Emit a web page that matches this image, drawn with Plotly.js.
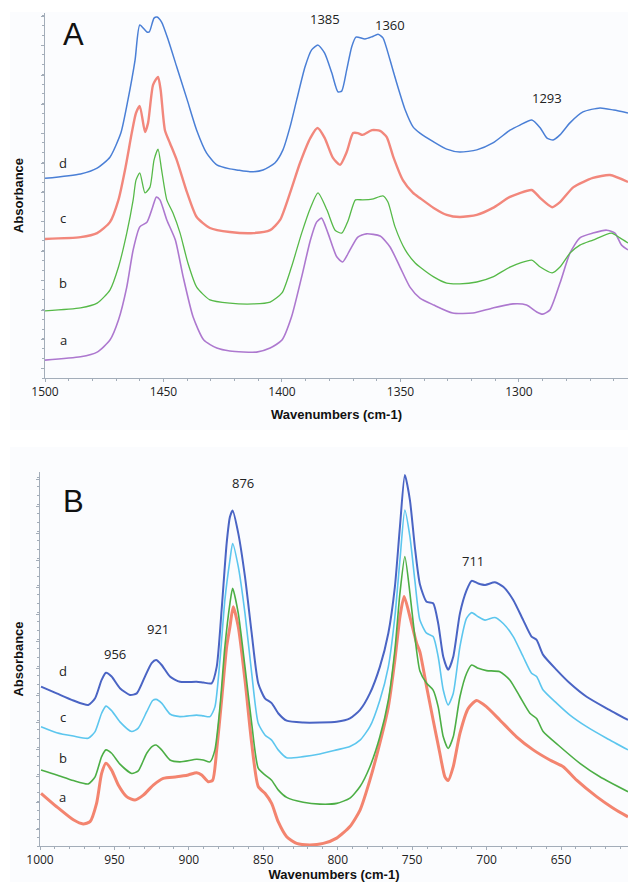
<!DOCTYPE html>
<html>
<head>
<meta charset="utf-8">
<script src="https://cdn.plot.ly/plotly-3.0.1.min.js"></script>
<style>html,body{margin:0;padding:0;background:#fff;}#chart{width:628px;height:882px;}</style>
</head>
<body>
<div id="chart"></div>
<script>
// ---------- Panel A (1500–1254 cm-1) ----------
const aD_x = [1500,1485,1478,1472.6,1468,1465,1462,1460,1457,1456,1454,1452.7,1450.8,1448,1444.4,1440,1436,1431.8,1427.5,1422,1419,1413.5,1408,1403,1399.6,1396.6,1393.8,1390.3,1387.5,1384.8,1382,1379,1376.4,1374.8,1372.7,1370.6,1368.8,1365,1362,1359.5,1357.4,1354.4,1351.6,1348,1344.7,1341.8,1336,1330.5,1325,1317.8,1311,1303.8,1299.6,1294.6,1291,1288.3,1285.6,1282.7,1278.5,1273,1265.8,1260,1254];
const aD_y = [0.547,0.559,0.575,0.605,0.671,0.762,0.871,0.967,0.948,0.948,0.986,0.989,0.975,0.926,0.852,0.762,0.679,0.616,0.584,0.573,0.570,0.565,0.570,0.589,0.625,0.688,0.762,0.852,0.899,0.912,0.890,0.836,0.784,0.786,0.844,0.907,0.934,0.929,0.935,0.942,0.932,0.871,0.808,0.734,0.688,0.671,0.647,0.627,0.619,0.625,0.644,0.679,0.693,0.707,0.685,0.658,0.652,0.666,0.699,0.729,0.740,0.734,0.726];

const aC_x = [1500,1485,1478,1472.6,1469,1466,1463.4,1461.6,1460,1457.8,1456.5,1454.4,1452.3,1451.2,1449.4,1447.3,1444.4,1440,1436,1430.4,1422,1412,1405,1400.8,1396.6,1392.4,1388,1385,1382,1378.5,1375.5,1372.7,1370,1368,1366,1362,1358.6,1355.8,1353,1349,1344.7,1341.8,1336,1330.5,1325,1317.8,1311,1303.8,1294.6,1291,1286,1282.7,1277,1268.8,1261.6,1254];
const aC_y = [0.381,0.386,0.397,0.427,0.488,0.578,0.671,0.726,0.745,0.674,0.699,0.803,0.825,0.789,0.679,0.644,0.597,0.507,0.441,0.411,0.400,0.397,0.405,0.433,0.507,0.589,0.658,0.685,0.658,0.603,0.584,0.619,0.671,0.671,0.666,0.679,0.677,0.660,0.605,0.542,0.507,0.493,0.466,0.447,0.441,0.447,0.466,0.496,0.515,0.493,0.468,0.482,0.523,0.548,0.556,0.537];

const aB_x = [1500,1485,1478,1472.6,1469,1465.5,1462.8,1461.6,1460,1457.8,1455.7,1454,1452.3,1450.8,1448.6,1446,1443,1439.7,1436,1430.4,1422,1412,1405,1400,1396,1391.7,1388,1384.8,1381,1377.6,1374.8,1372,1369,1366,1362,1357.4,1355.3,1352.3,1348,1343.8,1341.8,1336,1330.5,1325,1317.8,1311,1303.8,1294.6,1291,1286,1282.7,1278.5,1274.3,1268.8,1261,1257.4,1254];
const aB_y = [0.184,0.192,0.205,0.241,0.304,0.397,0.488,0.542,0.562,0.507,0.523,0.597,0.627,0.570,0.488,0.452,0.397,0.315,0.249,0.214,0.205,0.203,0.208,0.233,0.304,0.397,0.466,0.507,0.460,0.405,0.397,0.433,0.488,0.488,0.490,0.499,0.482,0.414,0.351,0.315,0.304,0.277,0.260,0.258,0.263,0.277,0.304,0.323,0.304,0.288,0.304,0.342,0.364,0.378,0.397,0.384,0.370];

const aA_x = [1500,1485,1478,1472.6,1469,1465.5,1462.8,1460,1457,1454.6,1453,1451.5,1448.6,1445,1441.7,1437.5,1433,1427.5,1422,1410.7,1405,1400,1396,1391.7,1388,1385.4,1383.3,1380.6,1376.9,1374.4,1371.3,1368,1364.4,1358.6,1354.4,1350.2,1346,1341.8,1336,1328,1319.4,1311,1302.5,1296.8,1292.5,1290,1287,1282.7,1278.5,1274.3,1268.8,1263,1259.5,1256.7,1254];
const aA_y = [0.049,0.058,0.071,0.104,0.159,0.249,0.351,0.414,0.427,0.468,0.496,0.488,0.433,0.378,0.277,0.167,0.104,0.082,0.074,0.071,0.082,0.104,0.167,0.277,0.378,0.427,0.438,0.397,0.332,0.318,0.351,0.386,0.395,0.389,0.359,0.304,0.249,0.219,0.200,0.178,0.178,0.192,0.203,0.200,0.181,0.175,0.186,0.260,0.342,0.384,0.397,0.405,0.397,0.364,0.351];

// ---------- Panel B (1000–605 cm-1) ----------
const bD_x = [999.3,988.8,977.6,967.6,963,958.6,955.7,951.9,946.3,939.6,935,929.5,925,922,918.3,912.7,906,894.8,890.3,884.7,881.3,878,874.6,872.4,870.6,866.8,862.3,857.8,853.4,848.9,844.4,840,834.3,823.2,812,800.7,791.8,785,778.4,771.7,766,761.6,758.2,754.9,751.5,748.2,744.8,740.3,735.9,732.5,729.1,725.8,722.4,717.9,713.4,710,705.6,701,694.4,688.8,682.1,675.4,669.8,666.4,662,653,644,632.8,619.4,605];
const bD_y = [0.426,0.408,0.389,0.377,0.395,0.444,0.463,0.453,0.422,0.404,0.408,0.453,0.489,0.497,0.484,0.453,0.439,0.439,0.437,0.435,0.479,0.631,0.810,0.880,0.897,0.836,0.720,0.569,0.435,0.395,0.382,0.355,0.335,0.330,0.330,0.332,0.341,0.364,0.408,0.479,0.569,0.693,0.854,0.992,0.925,0.800,0.700,0.653,0.649,0.595,0.506,0.471,0.506,0.622,0.684,0.709,0.702,0.698,0.705,0.693,0.658,0.604,0.560,0.551,0.511,0.471,0.435,0.399,0.368,0.337];

const bC_x = [999.3,988.8,977.6,967.6,963,958.6,955.7,951.9,946.3,938.4,934,928.3,924.3,922,918.3,912.7,906,894.8,890.3,885.8,882.5,879.1,875.8,872.4,870.6,866.8,862.3,857.8,853.4,848.9,844.4,840,834.3,823.2,812,800.7,791.8,785,778.4,771.7,766,761.6,758.2,754.9,751.5,748.2,744.8,740.3,735.9,732.5,729.1,725.8,722.4,717.9,713.4,710,705.6,701,694.4,688.8,682.1,675.4,669.8,666.4,662,653,644,632.8,619.4,605];
const bC_y = [0.319,0.303,0.294,0.288,0.306,0.355,0.374,0.362,0.332,0.306,0.315,0.359,0.389,0.392,0.382,0.353,0.346,0.350,0.348,0.346,0.372,0.497,0.658,0.765,0.809,0.747,0.622,0.462,0.328,0.297,0.283,0.257,0.236,0.239,0.246,0.257,0.266,0.283,0.319,0.390,0.479,0.613,0.765,0.898,0.827,0.711,0.604,0.569,0.560,0.506,0.417,0.377,0.408,0.533,0.609,0.624,0.613,0.604,0.611,0.595,0.560,0.506,0.462,0.453,0.417,0.382,0.350,0.319,0.288,0.257];

const bB_x = [999.3,988.8,977.6,967.6,963,958.6,955.7,951.9,946.3,938.4,934,928.3,924.3,922,918.3,912.7,906,894.8,890.3,885.8,882.5,879.1,875.8,872.4,870.6,866.8,862.3,857.8,853.4,848.9,844.4,840,834.3,823.2,812,800.7,791.8,785,778.4,771.7,766,761.6,758.2,754.9,751.5,748.2,744.8,740.3,735.9,732.5,729.1,725.8,722.4,717.9,713.4,710,705.6,700,691.1,684.4,677.6,670.9,666.4,662,650.8,637.3,623.9,605];
const bB_y = [0.203,0.190,0.175,0.166,0.185,0.239,0.257,0.248,0.219,0.194,0.201,0.248,0.267,0.270,0.257,0.230,0.225,0.232,0.230,0.225,0.257,0.372,0.533,0.649,0.689,0.622,0.479,0.328,0.208,0.190,0.176,0.150,0.130,0.117,0.112,0.114,0.128,0.159,0.212,0.292,0.390,0.524,0.676,0.774,0.676,0.560,0.468,0.435,0.417,0.372,0.292,0.261,0.292,0.399,0.462,0.484,0.475,0.469,0.466,0.444,0.399,0.355,0.341,0.306,0.266,0.221,0.185,0.145];

const bA_x = [999.3,988.8,977.6,971,966.4,962,958.6,955.7,951.9,947.4,941.8,936.2,930.6,923.9,917.2,908.2,900.4,894.8,891.4,887,884,881.3,878,874.6,872.4,870.2,866.8,862.3,857.8,853.4,848.9,844.4,840,834.3,827.6,818.7,809.7,800.7,791.8,785,778.4,771.7,766,761.6,758.2,755.4,751.5,747,744.8,740.3,735.9,731.4,728,725.8,722.4,717.9,712.3,706.7,700,691.1,679.9,668.7,657.5,648.5,639.5,626.1,614.9,605];
const bA_y = [0.141,0.105,0.070,0.059,0.065,0.114,0.194,0.221,0.203,0.163,0.132,0.123,0.136,0.163,0.181,0.185,0.190,0.196,0.190,0.172,0.176,0.257,0.390,0.533,0.586,0.640,0.586,0.444,0.275,0.159,0.141,0.114,0.065,0.025,0.007,0.003,0.007,0.021,0.052,0.096,0.176,0.275,0.372,0.497,0.613,0.667,0.613,0.542,0.519,0.426,0.337,0.248,0.185,0.175,0.212,0.301,0.368,0.389,0.372,0.337,0.292,0.257,0.230,0.212,0.176,0.132,0.101,0.078];

// labels
const seriesNames = ['a','b','c','d'];
const peaksA = [1385, 1360, 1293];
const peaksB = [956, 921, 876, 756, 711];

function tr(x, y, name, color, width, xa, ya) {
  return {x: x, y: y, name: name, type: 'scatter', mode: 'lines', xaxis: xa, yaxis: ya,
          line: {color: color, width: width, shape: 'spline', smoothing: 0.6}, hoverinfo: 'x+y+name'};
}

const data = [
  tr(aA_x, aA_y, 'a', '#ad78cf', 1.6, 'x', 'y'),
  tr(aB_x, aB_y, 'b', '#56b948', 1.3, 'x', 'y'),
  tr(aC_x, aC_y, 'c', '#f2877c', 2.4, 'x', 'y'),
  tr(aD_x, aD_y, 'd', '#4a7fd6', 1.5, 'x', 'y'),
  tr(bA_x, bA_y, 'a', '#f3846f', 3.0, 'x2', 'y2'),
  tr(bB_x, bB_y, 'b', '#4cae45', 1.6, 'x2', 'y2'),
  tr(bC_x, bC_y, 'c', '#5cc6ee', 1.6, 'x2', 'y2'),
  tr(bD_x, bD_y, 'd', '#4a64c4', 2.0, 'x2', 'y2')
];

const axCol = '#a3adb9';
const tickFont = {family: 'Open Sans, Liberation Sans, sans-serif', size: 12, color: '#222'};
const titleFont = {family: 'Liberation Sans, Arial, sans-serif', size: 13, color: '#111', weight: 'bold'};

function xax(domain, anchor, range, standoff) {
  return {domain: domain, anchor: anchor, range: range, autorange: false,
    showgrid: false, zeroline: false, showline: true, linecolor: axCol, linewidth: 1,
    ticks: 'outside', ticklen: 3, tickcolor: axCol, tick0: 0, dtick: 50,
    minor: {dtick: 10, ticks: 'outside', ticklen: 2, tickcolor: axCol, showgrid: false},
    tickfont: tickFont, automargin: false,
    title: {text: 'Wavenumbers (cm-1)', font: titleFont, standoff: standoff}};
}
function yax(domain, anchor, tick0, dtick, standoff) {
  return {domain: domain, anchor: anchor, range: [0, 1], autorange: false,
    showgrid: false, zeroline: false, showline: true, linecolor: axCol, linewidth: 1,
    ticks: 'outside', ticklen: 3, tickcolor: axCol, tick0: tick0, dtick: dtick,
    minor: {dtick: dtick / 3, ticks: 'outside', ticklen: 2, tickcolor: axCol, showgrid: false},
    showticklabels: false, automargin: false,
    title: {text: 'Absorbance', font: titleFont, standoff: standoff}};
}

const lblFont = {family: 'Open Sans, Liberation Sans, sans-serif', size: 13, color: '#222'};
function ann(text, x, y, xr, yr, font) {
  return {text: text, x: x, y: y, xref: xr, yref: yr, showarrow: false, font: font || lblFont};
}
const bigFont = {family: 'Liberation Sans, Arial, sans-serif', size: 31, color: '#111'};

const annotations = [
  ann('A', 1488, 0.94, 'x', 'y', bigFont),
  ann(String(peaksA[0]), 1382, 0.984, 'x', 'y'),
  ann(String(peaksA[1]), 1354.4, 0.967, 'x', 'y'),
  ann(String(peaksA[2]), 1288, 0.767, 'x', 'y'),
  ann(seriesNames[3], 1492.4, 0.589, 'x', 'y'),
  ann(seriesNames[2], 1492.4, 0.438, 'x', 'y'),
  ann(seriesNames[1], 1492.4, 0.260, 'x', 'y'),
  ann(seriesNames[0], 1492.4, 0.104, 'x', 'y'),
  ann('B', 977.8, 0.92, 'x2', 'y2', bigFont),
  ann(String(peaksB[0]), 949.6, 0.513, 'x2', 'y2'),
  ann(String(peaksB[1]), 920.8, 0.580, 'x2', 'y2'),
  ann(String(peaksB[2]), 863.7, 0.971, 'x2', 'y2'),
  ann(String(peaksB[3]), 750.8, 1.043, 'x2', 'y2'),
  ann(String(peaksB[4]), 709.2, 0.763, 'x2', 'y2'),
  ann(seriesNames[3], 984.6, 0.469, 'x2', 'y2'),
  ann(seriesNames[2], 984.6, 0.344, 'x2', 'y2'),
  ann(seriesNames[1], 984.6, 0.234, 'x2', 'y2'),
  ann(seriesNames[0], 984.6, 0.130, 'x2', 'y2')
];

const layout = {
  width: 628, height: 882,
  margin: {l: 0, r: 0, t: 0, b: 0, pad: 0},
  paper_bgcolor: '#ffffff', plot_bgcolor: '#fcfdfe',
  showlegend: false,
  xaxis: xax([45/628, 1], 'y', [1500, 1254], 10),
  yaxis: yax([1 - 378/882, 1 - 13/882], 'x', 0.025, 0.0805, 14),
  xaxis2: xax([40/628, 1], 'y2', [1000, 605], 4),
  yaxis2: yax([1 - 846/882, 1 - 472/882], 'x2', 0.043, 0.072, 9),
  annotations: annotations,
  shapes: [
    {type: 'rect', xref: 'paper', yref: 'paper', x0: 10/628, x1: 1, y0: 1 - 430/882, y1: 1 - 12/882,
     fillcolor: '#fbfcfe', line: {width: 0}, layer: 'below'},
    {type: 'rect', xref: 'paper', yref: 'paper', x0: 10/628, x1: 1, y0: 0, y1: 1 - 447/882,
     fillcolor: '#fbfcfe', line: {width: 0}, layer: 'below'}
  ]
};

Plotly.newPlot('chart', data, layout, {displayModeBar: false, staticPlot: true});
</script>
</body>
</html>
